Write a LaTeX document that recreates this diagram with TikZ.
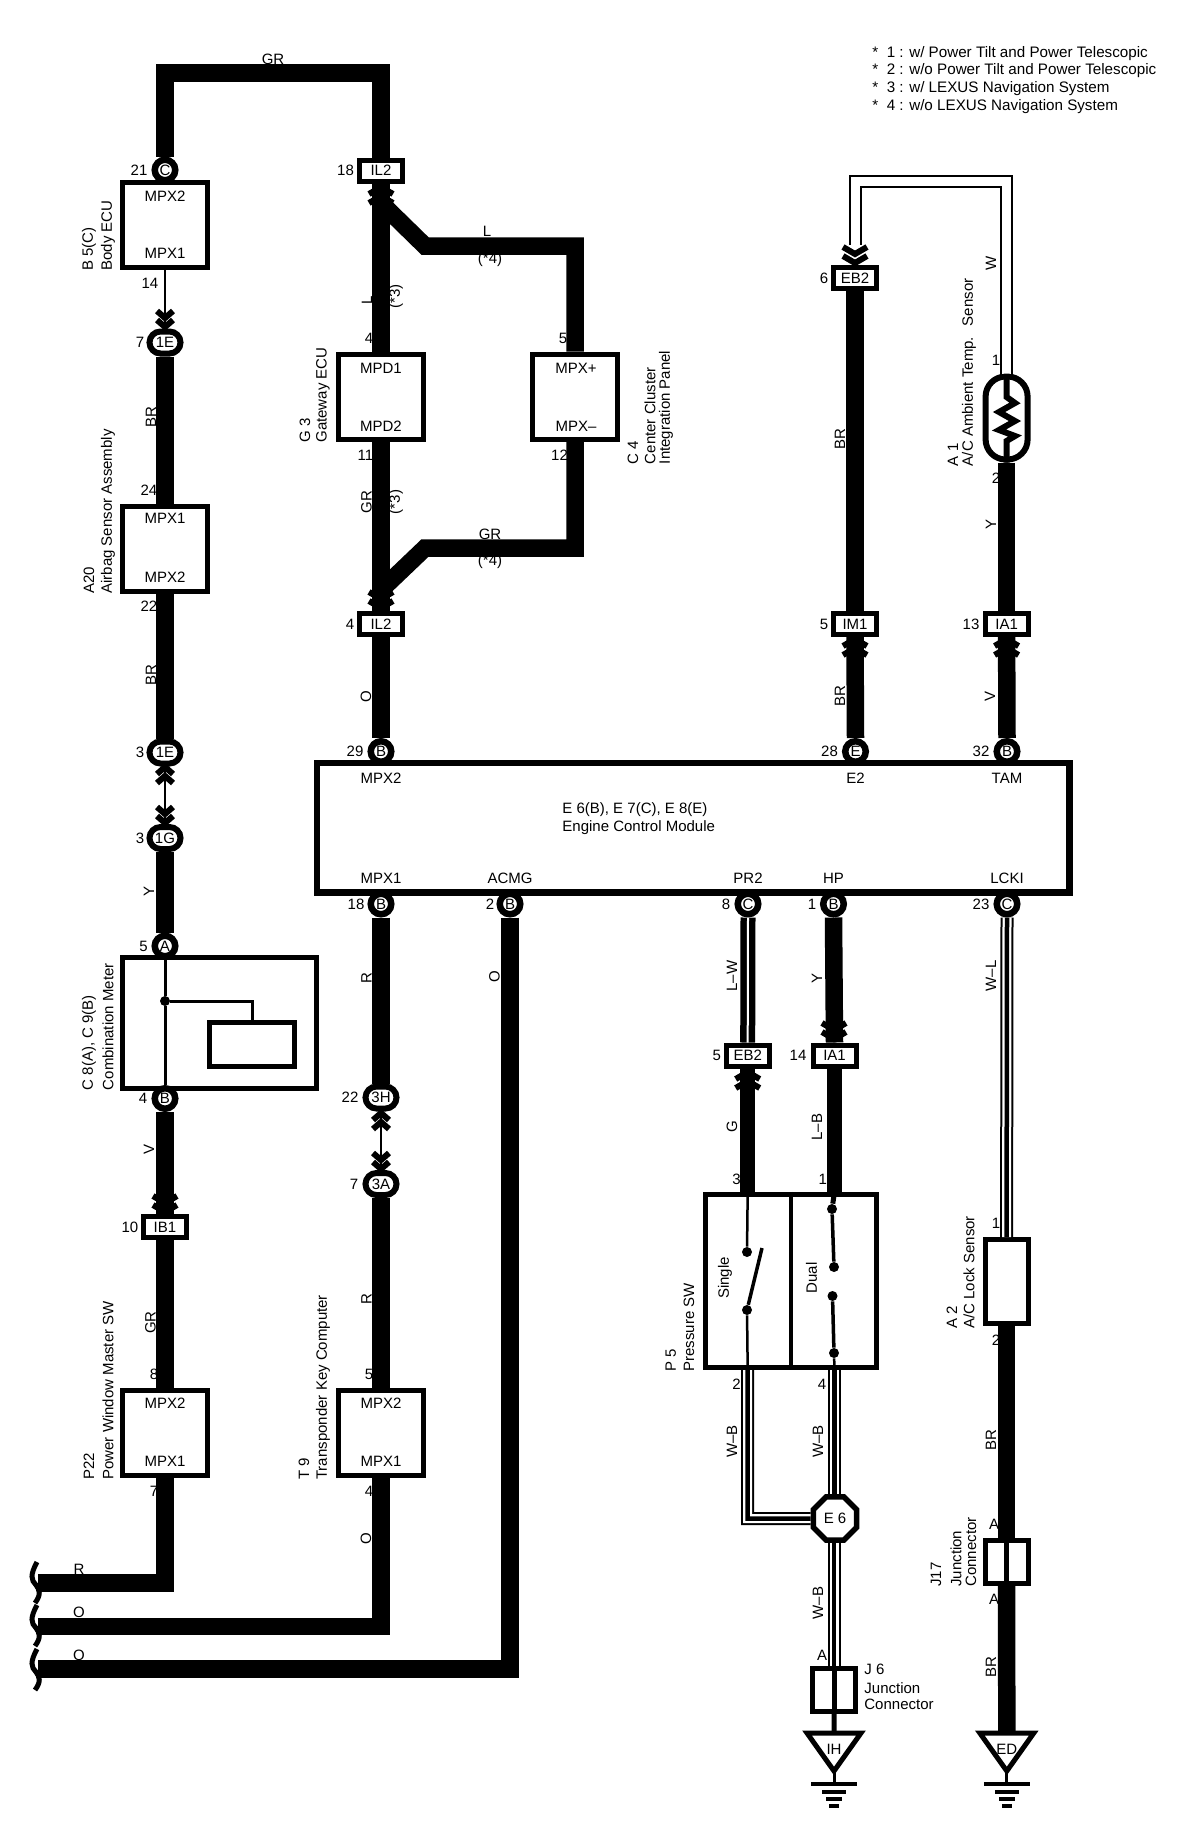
\documentclass[tikz,border=0pt]{standalone}
\usepackage{fontspec}
\setmainfont{Liberation Sans}
\usetikzlibrary{shapes.geometric,shapes.misc}
\tikzset{
  txt/.style={font=\fontsize{7.5}{9}\selectfont, inner sep=0pt},
  rtxt/.style={txt, rotate=90},
  box/.style={draw, fill=white, line width=2.5pt, inner sep=0pt},
  ecu/.style={box, minimum width=42.5pt, minimum height=42.5pt},
  jcirc/.style={txt, draw, fill=white, circle, line width=3.25pt, minimum size=10.25pt},
  jell/.style={txt, draw, fill=white, rounded rectangle, line width=3pt, minimum width=15.5pt, minimum height=11pt},
  jrect/.style={txt, draw, fill=white, line width=2.5pt, minimum width=21.5pt, minimum height=10.5pt},
  wire/.style={line width=8.75pt},
  wirem/.style={line width=7.25pt},
  wiret/.style={line width=1.25pt},
  wwire/.style={line width=1pt, double=white, double distance=4.5pt},
  wcore/.style={line width=2.25pt},
  lwire/.style={line width=3.25pt, double=white, double distance=1pt},
  dot/.style={circle, fill=black, minimum size=5pt, inner sep=0pt},
  pics/chev/.style={code={
    \draw[line width=3pt] (-#1,8) -- (0,1) -- (#1,8);
    \draw[line width=3pt] (-#1,17) -- (0,10) -- (#1,17);
  }},
  pics/gnd/.style={code={
    \draw[line width=2.5pt] (-27,2) -- (27,2) -- (0,40) -- cycle;
    \draw[line width=1.5pt] (0,40) -- (0,53);
    \draw[line width=2pt] (-23,53) -- (23,53);
    \draw[line width=2pt] (-12,60.5) -- (12,60.5);
    \draw[line width=2pt] (-8,68) -- (8,68);
    \draw[line width=2pt] (-5,75) -- (5,75);
  }}
}
\newcommand{\wbwire}[1]{\draw[wwire] #1; \draw[wcore] #1;}

\begin{document}
\begin{tikzpicture}[x=0.5pt, y=-0.5pt]
  \useasboundingbox (0,0) rectangle (1200,1842);

  % notes
  \node[txt, font=\fontsize{7.6}{9}\selectfont, anchor=west] (note1) at (872,53.5) {*\ \ 1 : w/ Power Tilt and Power Telescopic};
  \node[txt, font=\fontsize{7.6}{9}\selectfont, anchor=west] (note2) at (872,71) {*\ \ 2 : w/o Power Tilt and Power Telescopic};
  \node[txt, font=\fontsize{7.6}{9}\selectfont, anchor=west] (note3) at (872,89) {*\ \ 3 : w/ LEXUS Navigation System};
  \node[txt, font=\fontsize{7.6}{9}\selectfont, anchor=west] (note4) at (872,107) {*\ \ 4 : w/o LEXUS Navigation System};

  % engine control module
  \node[box, line width=3.25pt, minimum width=376.25pt, minimum height=64.75pt] (ecm) at (693.25,827.75) {};
  \node[txt, anchor=west] (ecmA) at (562,810) {E 6(B), E 7(C), E 8(E)};
  \node[txt, anchor=west] (ecmB) at (562,828) {Engine Control Module};
  \node[txt] (tMPX2) at (381,778) {MPX2};
  \node[txt] (tE2) at (855.5,778) {E2};
  \node[txt] (tTAM) at (1007,778) {TAM};
  \node[txt] (tMPX1) at (381,878) {MPX1};
  \node[txt] (tACMG) at (510,878) {ACMG};
  \node[txt] (tPR2) at (748,878) {PR2};
  \node[txt] (tHP) at (833.5,878) {HP};
  \node[txt] (tLCKI) at (1007,878) {LCKI};

  % left column
  \node[jcirc] (c21) at (165,170) {C};
  \node[txt] (n21) at (139,170) {21};
  \node[ecu] (b5) at (165,224.5) {};
  \node[txt] (b5a) at (165,196) {MPX2};
  \node[txt] (b5b) at (165,253) {MPX1};
  \node[rtxt, anchor=west] (b5n) at (89,271) {B 5(C)};
  \node[rtxt, anchor=west] (b5m) at (108,271) {Body ECU};
  \node[txt] (n14) at (150,283) {14};
  \node[jell] (e7) at (165,342.5) {1E};
  \node[txt] (n7a) at (140,342.5) {7};
  \node[rtxt] (brA) at (151,417) {BR};
  \node[txt] (n24) at (149,490) {24};
  \node[ecu] (a20) at (165,548.5) {};
  \node[txt] (a20a) at (165,518) {MPX1};
  \node[txt] (a20b) at (165,577) {MPX2};
  \node[rtxt, anchor=west] (a20n) at (89,594) {A20};
  \node[rtxt, anchor=west] (a20m) at (108,594) {Airbag Sensor Assembly};
  \node[txt] (n22a) at (149,606) {22};
  \node[rtxt] (brB) at (151,675) {BR};
  \node[jell] (e3) at (165,752.5) {1E};
  \node[txt] (n3a) at (140,752.5) {3};
  \node[jell] (g3c) at (165,838) {1G};
  \node[txt] (n3b) at (140,838) {3};
  \node[rtxt] (yA) at (149,891) {Y};
  \node[jcirc] (a5) at (165,946) {A};
  \node[txt] (n5a) at (143.5,946) {5};
  \node[box, minimum width=97pt, minimum height=65.5pt] (c8) at (219.5,1022.5) {};
  \node[box, minimum width=42.5pt, minimum height=21.75pt] (c8i) at (252,1044.7) {};
  \node[dot] (c8d) at (165,1001) {};
  \node[rtxt, anchor=west] (c8n) at (89,1090.5) {C 8(A), C 9(B)};
  \node[rtxt, anchor=west] (c8m) at (108,1090.5) {Combination Meter};
  \node[jcirc] (b4) at (165,1098.5) {B};
  \node[txt] (n4a) at (143,1098.5) {4};
  \node[rtxt] (vA) at (149,1149) {V};
  \node[jrect] (ib1) at (165,1227) {IB1};
  \node[txt] (n10) at (130,1227) {10};
  \node[rtxt] (grA) at (150.5,1322.5) {GR};
  \node[txt] (n8a) at (154,1374) {8};
  \node[ecu] (p22) at (165,1433) {};
  \node[txt] (p22a) at (165,1403) {MPX2};
  \node[txt] (p22b) at (165,1461) {MPX1};
  \node[rtxt, anchor=west] (p22n) at (89,1480) {P22};
  \node[rtxt, anchor=west] (p22m) at (108,1480) {Power Window Master SW};
  \node[txt] (n7b) at (154,1491) {7};

  % gateway column
  \node[txt] (grTop) at (273,59) {GR};
  \node[jrect] (il2a) at (381,170.5) {IL2};
  \node[txt] (n18a) at (345.5,170.5) {18};
  \node[txt] (lA) at (487,231) {L};
  \node[txt] (s4a) at (490,260) {(*4)};
  \node[rtxt] (lB) at (367,300) {L};
  \node[rtxt] (s3a) at (396,296.5) {(*3)};
  \node[txt] (n4b) at (369,338) {4};
  \node[txt] (n5b) at (563,338) {5};
  \node[ecu] (g3) at (381,396.5) {};
  \node[txt] (g3a) at (381,368) {MPD1};
  \node[txt] (g3b) at (381,426) {MPD2};
  \node[rtxt, anchor=west] (g3n) at (305,443) {G 3};
  \node[rtxt, anchor=west] (g3m) at (323,443) {Gateway ECU};
  \node[ecu] (c4) at (575,396.5) {};
  \node[txt] (c4a) at (576,368) {MPX+};
  \node[txt] (c4b) at (576,426) {MPX--};
  \node[rtxt, anchor=west] (c4n) at (633,464.5) {C 4};
  \node[rtxt, anchor=west] (c4m) at (650,464.5) {Center Cluster};
  \node[rtxt, anchor=west] (c4o) at (666,464.5) {Integration Panel};
  \node[txt] (n11) at (365.5,455.5) {11};
  \node[txt] (n12) at (559.5,455.5) {12};
  \node[rtxt] (grB) at (366.5,502) {GR};
  \node[rtxt] (s3b) at (396,502) {(*3)};
  \node[txt] (grC) at (490,534) {GR};
  \node[txt] (s4b) at (490,561.5) {(*4)};
  \node[jrect] (il2b) at (381,624) {IL2};
  \node[txt] (n4c) at (350,624) {4};
  \node[rtxt] (oA) at (366,697) {O};
  \node[jcirc] (b29) at (381,751.5) {B};
  \node[txt] (n29) at (355,751.5) {29};
  \node[jcirc] (b18) at (381,904) {B};
  \node[txt] (n18b) at (356,904) {18};
  \node[rtxt] (rA) at (366.5,978) {R};
  \node[jell] (h22) at (381,1097.5) {3H};
  \node[txt] (n22b) at (350,1097.5) {22};
  \node[jell] (a7) at (381,1184) {3A};
  \node[txt] (n7c) at (354,1184) {7};
  \node[rtxt] (rB) at (366.5,1299.5) {R};
  \node[txt] (n5c) at (369,1374) {5};
  \node[ecu] (t9) at (381,1433) {};
  \node[txt] (t9a) at (381,1403) {MPX2};
  \node[txt] (t9b) at (381,1461) {MPX1};
  \node[rtxt, anchor=west] (t9n) at (304,1480) {T 9};
  \node[rtxt, anchor=west] (t9m) at (323,1480) {Transponder Key Computer};
  \node[txt] (n4d) at (369,1491) {4};
  \node[rtxt] (oB) at (366,1539) {O};
  \node[jcirc] (b2) at (510,904) {B};
  \node[txt] (n2a) at (490,904) {2};
  \node[rtxt] (oC) at (494.5,977) {O};
  \node[txt] (rC) at (79,1569) {R};
  \node[txt] (oD) at (79,1612) {O};
  \node[txt] (oE) at (79,1655) {O};

  % right upper
  \node[jrect] (eb2a) at (855,278) {EB2};
  \node[txt] (n6) at (824,278) {6};
  \node[rtxt] (wA) at (991,263) {W};
  \node[rtxt, anchor=west] (a1n) at (953,466.5) {A 1};
  \node[rtxt, anchor=west] (a1m) at (969,466.5) {A/C Ambient Temp.\ \ \,Sensor};
  \node[txt] (n1a) at (996,360.5) {1};
  \node[box, rounded corners=10pt, line width=3pt, minimum width=21pt, minimum height=41.5pt] (a1) at (1006.6,418) {};
  \node[txt] (n2b) at (996,478.5) {2};
  \node[rtxt] (yB) at (991,524) {Y};
  \node[rtxt] (brC) at (840,439) {BR};
  \node[jrect] (im1) at (855,624) {IM1};
  \node[txt] (n5d) at (824,624) {5};
  \node[jrect] (ia1a) at (1006.6,624) {IA1};
  \node[txt] (n13) at (971,624) {13};
  \node[rtxt] (brD) at (840,696) {BR};
  \node[rtxt] (vB) at (990,696) {V};
  \node[jcirc] (e28) at (855.5,751.5) {E};
  \node[txt] (n28) at (829.5,751.5) {28};
  \node[jcirc] (b32) at (1007,751.5) {B};
  \node[txt] (n32) at (981,751.5) {32};

  % right lower
  \node[jcirc] (c8p) at (748,904) {C};
  \node[txt] (n8b) at (726,904) {8};
  \node[jcirc] (b1) at (833.5,904) {B};
  \node[txt] (n1b) at (812,904) {1};
  \node[jcirc] (c23) at (1007,904) {C};
  \node[txt] (n23) at (981,904) {23};
  \node[rtxt] (lw) at (732,976) {L--W};
  \node[rtxt] (yC) at (817,978) {Y};
  \node[rtxt] (wl) at (991,976) {W--L};
  \node[jrect] (eb2b) at (747.7,1055.5) {EB2};
  \node[txt] (n5e) at (716.7,1055.5) {5};
  \node[jrect] (ia1b) at (834.5,1055.5) {IA1};
  \node[txt] (n14b) at (798,1055.5) {14};
  \node[rtxt] (gA) at (732,1127) {G};
  \node[rtxt] (lb) at (817,1127) {L--B};
  \node[txt] (n3c) at (736.6,1179.5) {3};
  \node[txt] (n1c) at (822.7,1179.5) {1};
  \node[box, minimum width=85.3pt, minimum height=86.75pt] (ps) at (790.8,1281) {};
  \node[rtxt] (sgl) at (725,1278) {Single};
  \node[rtxt] (dul) at (811.6,1278) {Dual};
  \node[rtxt, anchor=west] (psn) at (670.8,1372) {P 5};
  \node[rtxt, anchor=west] (psm) at (689,1372) {Pressure SW};
  \node[txt] (n2c) at (736.6,1384) {2};
  \node[txt] (n4e) at (822,1384) {4};
  \node[rtxt] (wbA) at (732,1441.5) {W--B};
  \node[rtxt] (wbB) at (818,1441.5) {W--B};
  \node[txt, draw, fill=white, regular polygon, regular polygon sides=8, line width=2.75pt, minimum size=23.3pt] (e6) at (835,1518.5) {E 6};
  \node[rtxt] (wbC) at (818,1603) {W--B};
  \node[txt] (aA) at (822,1655) {A};
  \node[box, minimum width=21.5pt, minimum height=21.5pt] (j6) at (834.2,1690) {};
  \node[txt, anchor=west] (j6n) at (864,1669) {J 6};
  \node[txt, anchor=west] (j6m) at (864,1688) {Junction};
  \node[txt, anchor=west] (j6o) at (864,1704.5) {Connector};
  \node[txt] (n1d) at (996,1223) {1};
  \node[box, minimum width=21.5pt, minimum height=42pt] (a2) at (1006.6,1281.5) {};
  \node[rtxt, anchor=west] (a2n) at (952,1329) {A 2};
  \node[rtxt, anchor=west] (a2m) at (969,1329) {A/C Lock Sensor};
  \node[txt] (n2d) at (996,1340.5) {2};
  \node[rtxt] (brE) at (991,1440) {BR};
  \node[txt] (aB) at (994,1524) {A};
  \node[box, minimum width=21.5pt, minimum height=21.5pt] (j17) at (1006.6,1561.7) {};
  \node[rtxt, anchor=west] (j17n) at (936,1587) {J17};
  \node[rtxt, anchor=west] (j17m) at (956,1587) {Junction};
  \node[rtxt, anchor=west] (j17o) at (971,1587) {Connector};
  \node[txt] (aC) at (994,1599) {A};
  \node[rtxt] (brF) at (991,1667) {BR};
  \coordinate (gih) at (834,1731);
  \coordinate (ged) at (1006.8,1731);

  % heavy wires, left side
  \draw[wire] (c21.north) -- (165,73) -- (381,73) -- (il2a.north);
  \draw[wire] (e7.south) -- (a20.north);
  \draw[wire] (a20.south) -- (e3.north);
  \draw[wire] (g3c.south) -- (a5.north);
  \draw[wire] (b4.south) -- (ib1.north);
  \draw[wire] (ib1.south) -- (p22.north);
  \draw[wire] (il2a.south) -- (g3.north);
  \draw[wire] (g3.south) -- (il2b.north);
  \draw[wire] (il2b.south) -- (b29.north);
  \draw[wire] (381,203) -- (425,246) -- (575,246) -- (c4.north);
  \draw[wire] (c4.south) -- (575,548) -- (425,548) -- (381,590);
  \draw[wire] (b18.south) -- (h22.north);
  \draw[wire] (a7.south) -- (t9.north);
  \coordinate (cutR) at (38,1583);
  \coordinate (cutO) at (38,1626.5);
  \coordinate (cutA) at (38,1669);
  \draw[wire] (p22.south) -- (165,1583) -- (cutR);
  \draw[wire] (t9.south) -- (381,1626.5) -- (cutO);
  \draw[wire] (b2.south) -- (510,1669) -- (cutA);
  % wire ends
  \draw[line width=2.5pt] (37,1562) .. controls (30,1575) and (31,1580) .. (36,1585) .. controls (40,1590) and (41,1595) .. (35,1603);
  \draw[line width=2.5pt] (37,1605) .. controls (30,1618) and (31,1623) .. (36,1628) .. controls (40,1633) and (41,1638) .. (35,1646);
  \draw[line width=2.5pt] (37,1649) .. controls (30,1662) and (31,1667) .. (36,1672) .. controls (40,1677) and (41,1682) .. (35,1690);

  % thin links
  \draw[wiret] (b5.south) -- (e7.north);
  \draw[wiret] (e3.south) -- (g3c.north);
  \draw[wiret] (h22.south) -- (a7.north);

  % combination meter inside
  \draw[line width=1.5pt] (c8d) -- (a5.south);
  \draw[line width=1.5pt] (c8d) -- (b4.north);
  \draw[line width=1.5pt] (c8d) -| (c8i.north);

  % right wires
  \draw[wwire, shorten >=10pt] (a1.north) -- (1006.6,181) -- (855,181) -- (eb2a.north);
  \draw[wire] (eb2a.south) -- (im1.north);
  \draw[wire] (im1.south) -- (e28.north);
  \draw[wire] (a1.south) -- (ia1a.north);
  \draw[wire] (ia1a.south) -- (b32.north);
  \draw[line width=3pt] (a1.north) -- (1006.6,397) -- (1015,403) -- (999,412) -- (1015,421) -- (999,430) -- (1015,436) -- (1006.6,441) -- (a1.south);
  \draw[lwire] (c8p.south) -- (eb2b.north);
  \draw[wire] (b1.south) -- (ia1b.north);
  \wbwire{(c23.south) -- (a2.north)}
  \draw[wirem] (eb2b.south) -- (747.7,1192);
  \draw[wirem] (ia1b.south) -- (834.5,1192);
  \draw[wire] (a2.south) -- (j17.north);
  \draw[wire] (j17.south) -- (ged);

  % pressure switch
  \draw[line width=2pt] (ps.north) -- (ps.south);
  \node[dot] (s1) at (747,1252) {};
  \node[dot] (s2) at (747,1310) {};
  \node[dot] (d1) at (832,1209) {};
  \node[dot] (d2) at (834,1267) {};
  \node[dot] (d3) at (832.5,1296) {};
  \node[dot] (d4) at (834,1353) {};
  \coordinate (sTop) at (747.7,1192);
  \coordinate (sBot) at (747.7,1370);
  \coordinate (dTop) at (834.5,1192);
  \coordinate (dBot) at (834.5,1370);
  \draw[wiret] (sTop) -- (s1);
  \draw[wiret] (s2) -- (sBot);
  \draw[line width=1.75pt] (s2) -- (762,1248);
  \draw[line width=2.5pt] (dTop) -- (d1);
  \draw[line width=1.75pt] (d1) -- (d2);
  \draw[line width=1.75pt] (d3) -- (d4);
  \draw[wiret] (d4) -- (dBot);

  % wires to E 6 and grounds
  \wbwire{(sBot) -- (747.7,1518.5) -- (e6.west)}
  \wbwire{(dBot) -- (e6.north -| dBot)}
  \wbwire{(e6.south -| j6) -- (j6.north)}
  \draw[line width=2.5pt] (j6.north) -- (j6.south);
  \draw[line width=2.5pt] (j17.north) -- (j17.south);
  \draw[line width=2.5pt] (j6.south) -- (gih);
  \pic at (gih) {gnd};
  \pic at (ged) {gnd};
  \node[txt] (ih) at (834,1749) {IH};
  \node[txt] (ed) at (1006.8,1749) {ED};

  % connector marks
  \pic[rotate=180] at (165,328) {chev=8};
  \pic at (165,766) {chev=8};
  \pic[rotate=180] at (165,824) {chev=8};
  \pic at (381,1112) {chev=8};
  \pic[rotate=180] at (381,1170) {chev=8};
  \pic[rotate=180] at (165,1213) {chev=12};
  \pic at (381,186) {chev=12};
  \pic[rotate=180] at (381,609) {chev=12};
  \pic[rotate=180] at (855,264) {chev=12};
  \pic at (855,638) {chev=12};
  \pic at (1006.6,638) {chev=12};
  \pic[rotate=180] at (834,1040) {chev=12};
  \pic at (747.7,1071) {chev=12};
\end{tikzpicture}
\end{document}
